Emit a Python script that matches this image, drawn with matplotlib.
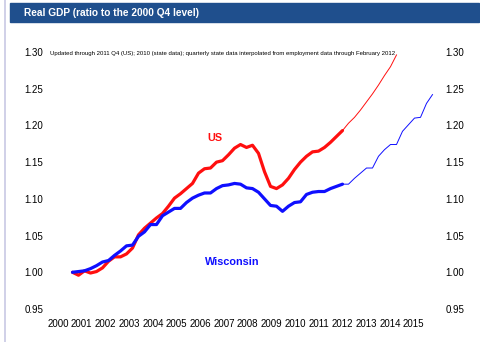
import numpy as np
import matplotlib
matplotlib.use('Agg')
import matplotlib.pyplot as plt
from matplotlib.patches import Rectangle
from matplotlib import font_manager

# Real GDP, ratio to 2000 Q4, one value per quarter starting 2000 Q4
us_gdp = [1.000, 0.996, 1.002, 0.999, 1.001, 1.006, 1.015, 1.021, 1.021, 1.025,
          1.033, 1.051, 1.060, 1.067, 1.074, 1.080, 1.090, 1.101, 1.107, 1.114,
          1.121, 1.135, 1.141, 1.142, 1.150, 1.152, 1.160, 1.169, 1.174, 1.170,
          1.173, 1.162, 1.137, 1.117, 1.114, 1.119, 1.128, 1.140, 1.150, 1.158,
          1.164, 1.165, 1.170, 1.177, 1.185, 1.193]
us_proj = [1.193, 1.203, 1.211, 1.221, 1.232, 1.243, 1.255, 1.268, 1.280, 1.296]

wi_gdp = [1.000, 1.001, 1.002, 1.005, 1.009, 1.014, 1.016, 1.023, 1.029, 1.036,
          1.037, 1.049, 1.055, 1.065, 1.065, 1.077, 1.082, 1.087, 1.087, 1.095,
          1.101, 1.105, 1.108, 1.108, 1.114, 1.118, 1.119, 1.121, 1.120, 1.115,
          1.114, 1.109, 1.100, 1.091, 1.090, 1.083, 1.090, 1.095, 1.096, 1.106,
          1.109, 1.110, 1.110, 1.114, 1.117, 1.120]
wi_proj = [1.120, 1.120, 1.128, 1.135, 1.142, 1.142, 1.158, 1.167, 1.174, 1.174,
           1.192, 1.201, 1.210, 1.211, 1.230, 1.242]

years = [str(y) for y in range(2000, 2016)]
yticks = [0.95, 1.00, 1.05, 1.10, 1.15, 1.20, 1.25, 1.30]

title = 'Real GDP (ratio to the 2000 Q4 level)'
note = ('Updated through 2011 Q4 (US); 2010 (state data); quarterly state data '
        'interpolated from employment data through February 2012')

installed = {f.name for f in font_manager.fontManager.ttflist}
if 'Liberation Sans Narrow' in installed:
    narrow = ['Liberation Sans Narrow', 'DejaVu Sans']
    tick_size, note_size, lab_size = 7.6, 5.0, 8.8
else:
    narrow = ['Liberation Sans', 'DejaVu Sans']
    tick_size, note_size, lab_size = 7.0, 4.3, 7.8

W, H = 480, 342
fig = plt.figure(figsize=(W / 100, H / 100), dpi=100)
fig.patch.set_facecolor('white')

# header banner and left border
fig.patches.append(Rectangle((10 / W, 1 - 22 / H), 469 / W, 19 / H,
                             transform=fig.transFigure, color='#1f4f8d', zorder=0))
fig.text(24 / W, 1 - 13 / H, title, color='white', fontsize=7.3, fontweight='bold',
         family=['Liberation Sans', 'DejaVu Sans'], va='center', ha='left')
fig.add_artist(plt.Line2D([4.5 / W, 4.5 / W], [0, 1], transform=fig.transFigure,
                          color='#c8c8e4', lw=1.2))

ax = fig.add_axes([46 / W, 1 - 309 / H, 397 / W, 257 / H])

q_hist = np.arange(len(us_gdp))
q_us_proj = np.arange(len(us_gdp) - 1, len(us_gdp) - 1 + len(us_proj))
q_wi_proj = np.arange(len(wi_gdp) - 1, len(wi_gdp) - 1 + len(wi_proj))

ax.plot(q_hist, us_gdp, color='#ff0f0f', lw=2.3, solid_capstyle='round')
ax.plot(q_us_proj, us_proj, color='#ff0f0f', lw=0.7)
ax.plot(q_hist, wi_gdp, color='#0f0fff', lw=2.3, solid_capstyle='round')
ax.plot(q_wi_proj, wi_proj, color='#0f0fff', lw=0.7)

ax.text(23.75, 1.183, 'US', color='#ff0f0f', fontsize=lab_size, fontweight='bold',
        family=narrow, ha='center', va='center')
ax.text(26.6, 1.014, 'Wisconsin', color='#0f0fff', fontsize=lab_size, fontweight='bold',
        family=narrow, ha='center', va='center')

ax.set_xlim(-26.5 / 6, 370.5 / 6)
ax.set_ylim(0.95, 1.30)
ax.set_xticks(np.arange(len(years)) * 3.95 - 2.4)
ax.set_xticklabels(years, family=narrow, fontsize=tick_size)
ax.set_yticks(yticks)
ax.set_yticklabels(['%.2f' % v for v in yticks], family=narrow, fontsize=tick_size)
ax.tick_params(axis='y', length=0, pad=2.0, labelleft=True, labelright=True)
ax.tick_params(axis='x', length=0, pad=7)
for s in ax.spines.values():
    s.set_visible(False)
ax.set_facecolor('none')

fig.text(50 / W, 1 - 53 / H, note, fontsize=note_size, family=narrow, va='center', ha='left')

fig.savefig('out.png', dpi=100)
